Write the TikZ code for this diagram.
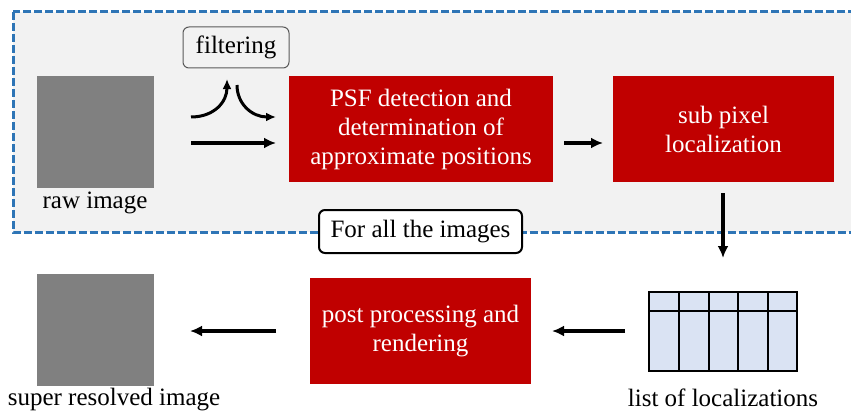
\documentclass[tikz,border=0pt]{standalone}
\usepackage{fontspec}
\setmainfont{Liberation Serif}
\usetikzlibrary{arrows.meta}
\definecolor{boxred}{HTML}{C00000}
\definecolor{dashblue}{HTML}{2E75B6}
\definecolor{panel}{HTML}{F2F2F2}
\definecolor{tblue}{HTML}{DAE3F3}
\definecolor{imggray}{HTML}{808080}
\tikzset{
  redbox/.style={fill=boxred, text=white, align=center, inner sep=0pt,
    font=\fontsize{25}{29}\selectfont},
  imgbox/.style={fill=imggray, inner sep=0pt, minimum width=117pt, minimum height=112pt},
  lbl/.style={font=\fontsize{25}{29}\selectfont, inner sep=0pt},
  flow/.style={line width=3.5pt, -{Latex[length=12pt,width=11pt]}},
}
\begin{document}
\begin{tikzpicture}[x=1pt,y=-1pt]
\useasboundingbox (0,0) rectangle (851,412);
% dashed panel
\draw[dashblue, fill=panel, line width=3pt, dash pattern=on 8pt off 3pt] (13,12) rectangle (880,232);
% images
\node[imgbox, anchor=north west] (raw) at (37,76) {};
\node[lbl] (rawlbl) at (95,203) {raw image};
\node[imgbox, anchor=north west] (sr) at (37,274) {};
\node[lbl] (srlbl) at (114,400) {super resolved image};
% filtering
\node[draw=black!65, line width=1pt, rounded corners=6pt, fill=panel, minimum width=106pt, minimum height=41pt, inner sep=0pt, lbl] (filt) at (236,47.5) {filtering};
% red boxes
\node[redbox, minimum width=264pt, minimum height=106pt] (psf) at (421,129) {PSF detection and\\determination of\\approximate positions};
\node[redbox, minimum width=221pt, minimum height=106pt] (sub) at (723.5,129) {sub pixel\\localization};
\node[redbox, minimum width=221pt, minimum height=106pt] (post) at (420.5,331) {post processing and\\rendering};
% for all
\node[draw=black, line width=2pt, rounded corners=6pt, fill=white, minimum width=203pt, minimum height=43pt, inner sep=0pt, lbl] (forall) at (420.5,231.5) {For all the images};
% table
\node[draw=black, line width=1.5pt, fill=tblue, minimum width=148pt, minimum height=79pt, inner sep=0pt] (tbl) at (723,331.5) {};
\draw[line width=1.5pt] (649,311) -- (797,311);
\foreach \xx in {679,709,738,768} \draw[line width=1.5pt] (\xx,292) -- (\xx,371);
\node[lbl] (tbllbl) at (723,398) {list of localizations};
% arrows
\coordinate (a1s) at (191,117); \coordinate (a1e) at (227,79);
\coordinate (a2s) at (237,85); \coordinate (a2e) at (276,117);
\draw[line width=3pt, -{Latex[length=10pt,width=9pt]}] (a1s) .. controls (214,117) and (227,102) .. (a1e);
\draw[line width=3pt, -{Latex[length=10pt,width=9pt]}] (a2s) .. controls (237,104) and (252,117) .. (a2e);
\coordinate (a3s) at (191,143); \coordinate (a3e) at (276,143);
\draw[flow] (a3s) -- (a3e);
\draw[flow] (564,143) -- (603,143);
\draw[flow] (723,193) -- (723,258);
\draw[flow] (625,331) -- (552,331);
\draw[flow] (276,331) -- (190,331);
\end{tikzpicture}
\end{document}
